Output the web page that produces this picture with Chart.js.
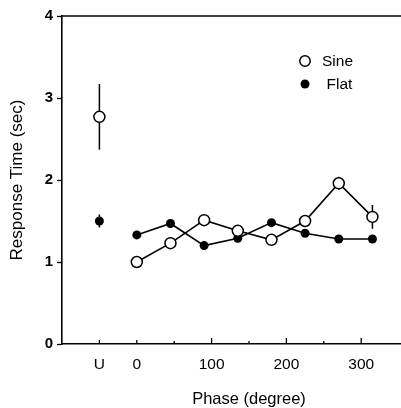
<!DOCTYPE html>
<html>
<head>
<meta charset="utf-8">
<script src="https://cdn.jsdelivr.net/npm/chart.js@4/dist/chart.umd.min.js"></script>
<style>
  html, body { margin: 0; padding: 0; background: #fff; overflow: hidden; width: 401px; height: 408px; }
  #wrap { width: 443px; height: 408px; }
</style>
</head>
<body>
<div id="wrap"><canvas id="c" width="443" height="408"></canvas></div>
<script>
// ---- data ----
const phases      = [0, 45, 90, 135, 180, 225, 270, 315];
const sineValues  = [1.00, 1.23, 1.51, 1.38, 1.27, 1.50, 1.96, 1.55];
const sineErrors  = [0, 0, 0, 0, 0, 0, 0.08, 0.145];
const flatValues  = [1.33, 1.47, 1.20, 1.29, 1.48, 1.35, 1.28, 1.28];
const flatErrors  = [0, 0, 0, 0, 0, 0, 0, 0];

const uPhase      = -50;   // axis position of the "U" category
const uSineValue  = 2.77;
const uSineError  = 0.40;
const uFlatValue  = 1.50;
const uFlatError  = 0.08;

const xTickValues = [-50, 0, 100, 200, 300];
const xTickLabels = ['U', '0', '100', '200', '300'];
const xMinorTicks = [50, 150, 250];
const yTickValues = [0, 1, 2, 3, 4];

const seriesNames = ['Sine', 'Flat'];

// ---- build datasets ----
const toPts = (xs, ys) => xs.map((x, i) => ({ x: x, y: ys[i] }));
const INK = '#000';
const FONT = "'Liberation Sans', Arial, Helvetica, sans-serif";

const errorSets = [
  { xs: phases, ys: sineValues, es: sineErrors },
  { xs: phases, ys: flatValues, es: flatErrors },
  { xs: [uPhase], ys: [uSineValue], es: [uSineError] },
  { xs: [uPhase], ys: [uFlatValue], es: [uFlatError] }
];

const decor = {
  id: 'decor',
  beforeDatasetsDraw(chart) {
    const { ctx, chartArea: a, scales: { x, y } } = chart;
    ctx.save();
    ctx.strokeStyle = INK;
    ctx.lineWidth = 1.5;
    // top frame line
    ctx.beginPath();
    ctx.moveTo(a.left, a.top);
    ctx.lineTo(a.right, a.top);
    ctx.stroke();
    // inward x ticks
    ctx.lineWidth = 1.3;
    xTickValues.forEach(v => {
      const px = x.getPixelForValue(v);
      const len = v >= 100 ? 6 : 4;
      ctx.beginPath(); ctx.moveTo(px, a.bottom); ctx.lineTo(px, a.bottom - len); ctx.stroke();
    });
    xMinorTicks.forEach(v => {
      const px = x.getPixelForValue(v);
      ctx.beginPath(); ctx.moveTo(px, a.bottom); ctx.lineTo(px, a.bottom - 3); ctx.stroke();
    });
    // error bars
    ctx.lineWidth = 1.5;
    errorSets.forEach(s => {
      s.xs.forEach((xv, i) => {
        const e = s.es[i];
        if (!e) return;
        const px = x.getPixelForValue(xv);
        ctx.beginPath();
        ctx.moveTo(px, y.getPixelForValue(s.ys[i] - e));
        ctx.lineTo(px, y.getPixelForValue(s.ys[i] + e));
        ctx.stroke();
      });
    });
    ctx.restore();
  },
  afterDraw(chart) {
    const { ctx } = chart;
    ctx.save();
    ctx.font = '15.5px ' + FONT;
    ctx.fillStyle = INK;
    ctx.textBaseline = 'middle';
    ctx.textAlign = 'left';
    // Sine (open circle)
    ctx.lineWidth = 1.5;
    ctx.strokeStyle = INK;
    ctx.beginPath(); ctx.arc(305, 61, 5.2, 0, Math.PI * 2);
    ctx.fillStyle = '#fff'; ctx.fill(); ctx.stroke();
    ctx.fillStyle = INK;
    ctx.fillText(seriesNames[0], 322, 62);
    // Flat (filled circle)
    ctx.beginPath(); ctx.arc(305, 84, 4.5, 0, Math.PI * 2); ctx.fill();
    ctx.fillText(seriesNames[1], 326.5, 85);
    ctx.restore();
  }
};

const openPoint = { pointStyle: 'circle', pointRadius: 5.5, pointBackgroundColor: '#fff', pointBorderColor: INK, pointBorderWidth: 1.5 };
const fillPoint = { pointStyle: 'circle', pointRadius: 4.5, pointBackgroundColor: INK, pointBorderColor: INK, pointBorderWidth: 0 };

new Chart(document.getElementById('c'), {
  type: 'scatter',
  data: {
    datasets: [
      Object.assign({ label: seriesNames[0], data: toPts(phases, sineValues), showLine: true, borderColor: INK, borderWidth: 1.6 }, openPoint),
      Object.assign({ label: seriesNames[0] + ' U', data: toPts([uPhase], [uSineValue]), showLine: false }, openPoint),
      Object.assign({ label: seriesNames[1], data: toPts(phases, flatValues), showLine: true, borderColor: INK, borderWidth: 1.6 }, fillPoint),
      Object.assign({ label: seriesNames[1] + ' U', data: toPts([uPhase], [uFlatValue]), showLine: false }, fillPoint)
    ]
  },
  options: {
    responsive: false,
    animation: false,
    layout: { padding: { top: 16, right: 0, left: 0, bottom: 0 } },
    plugins: { legend: { display: false }, tooltip: { enabled: false } },
    scales: {
      x: {
        type: 'linear', min: -100, max: 400,
        afterBuildTicks: s => { s.ticks = xTickValues.map(v => ({ value: v })); },
        afterFit: s => { s.height = 64; },
        ticks: {
          color: INK, font: { family: FONT, size: 15.5 }, padding: 11, maxRotation: 0,
          callback: v => xTickLabels[xTickValues.indexOf(v)]
        },
        grid: { display: true, drawOnChartArea: false, drawTicks: false },
        border: { display: true, color: INK, width: 1.6 },
        title: { display: true, text: 'Phase (degree)', color: INK, font: { family: FONT, size: 16.5 }, padding: { top: 0, bottom: -1.5 } }
      },
      y: {
        min: 0, max: 4,
        afterBuildTicks: s => { s.ticks = yTickValues.map(v => ({ value: v })); },
        afterFit: s => { s.width = 62; },
        ticks: { color: INK, font: { family: FONT, size: 15, weight: 'bold' }, padding: 4 },
        grid: { drawOnChartArea: false, drawTicks: true, tickLength: 5, color: INK, tickWidth: 1.3 },
        border: { display: true, color: INK, width: 1.6 },
        title: { display: true, text: 'Response Time (sec)', color: INK, font: { family: FONT, size: 17 }, padding: { top: 7, bottom: 0 } }
      }
    }
  },
  plugins: [decor]
});
</script>
</body>
</html>
